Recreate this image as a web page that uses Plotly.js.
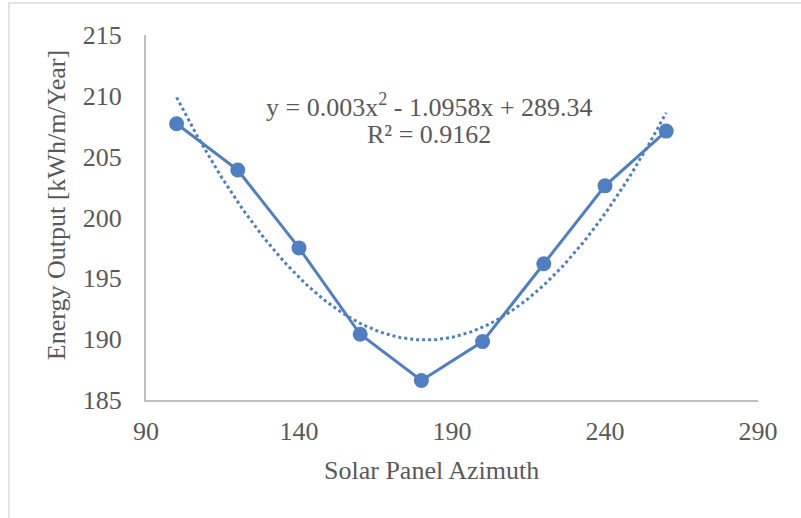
<!DOCTYPE html>
<html>
<head>
<meta charset="utf-8">
<script src="https://cdn.plot.ly/plotly-3.0.1.min.js"></script>
<style>
html,body{margin:0;padding:0;background:#fff;overflow:hidden;}
#frame{position:absolute;left:8px;top:2px;width:900px;height:700px;border:2px solid #e3e3e3;box-sizing:border-box;}
#chart{position:absolute;left:0;top:0;width:801px;height:518px;}
</style>
</head>
<body>
<div id="frame"></div>
<div id="chart"></div>
<script>
const azimuth = [100, 120, 140, 160, 180, 200, 220, 240, 260];
const energy = [207.7, 203.9, 197.5, 190.4, 186.6, 189.8, 196.2, 202.6, 207.1];
const xTickVals = [90, 140, 190, 240, 290];
const yTickVals = [185, 190, 195, 200, 205, 210, 215];
const xTitle = 'Solar Panel Azimuth';
const yTitle = 'Energy Output [kWh/m/Year]';
const equationText = 'y = 0.003x<sup>2</sup> - 1.0958x + 289.34';
const r2Text = 'R² = 0.9162';

// quadratic least-squares fit (trendline) computed from the data
function polyfit2(xs, ys) {
  let S = [0,0,0,0,0], T = [0,0,0];
  for (let i = 0; i < xs.length; i++) {
    let p = 1;
    for (let k = 0; k < 5; k++) { S[k] += p; if (k < 3) T[k] += p * ys[i]; p *= xs[i]; }
  }
  const A = [[S[0],S[1],S[2],T[0]],[S[1],S[2],S[3],T[1]],[S[2],S[3],S[4],T[2]]];
  for (let c = 0; c < 3; c++) {
    for (let r = c + 1; r < 3; r++) {
      const f = A[r][c] / A[c][c];
      for (let k = c; k < 4; k++) A[r][k] -= f * A[c][k];
    }
  }
  const sol = [0,0,0];
  for (let r = 2; r >= 0; r--) {
    let s = A[r][3];
    for (let k = r + 1; k < 3; k++) s -= A[r][k] * sol[k];
    sol[r] = s / A[r][r];
  }
  return sol; // c0, c1, c2
}
const coef = polyfit2(azimuth, energy);
const fitX = [], fitY = [];
const x0 = azimuth[0], x1 = azimuth[azimuth.length - 1];
for (let i = 0; i <= 160; i++) {
  const x = x0 + (x1 - x0) * i / 160;
  fitX.push(x);
  fitY.push(coef[0] + coef[1] * x + coef[2] * x * x);
}

const blue = '#4f7fc0';
const font = 'Liberation Serif, Times New Roman, serif';
const txt = '#595959';
const fs = 26;

const traces = [
  {x: fitX, y: fitY, type: 'scatter', mode: 'lines',
   line: {color: blue, width: 3, dash: 'dot'}, hoverinfo: 'skip'},
  {x: azimuth, y: energy, type: 'scatter', mode: 'lines+markers',
   line: {color: blue, width: 3}, marker: {color: blue, size: 15}}
];

const layout = {
  width: 801, height: 518,
  margin: {l: 146, r: 43, t: 35, b: 118},
  paper_bgcolor: 'rgba(0,0,0,0)',
  plot_bgcolor: 'rgba(0,0,0,0)',
  showlegend: false,
  font: {family: font, size: fs, color: txt},
  xaxis: {
    range: [90, 290], tickvals: xTickVals,
    showgrid: false, zeroline: false, showline: true,
    linecolor: '#bfbfbf', linewidth: 2, ticks: '',
    ticklabelstandoff: 7,
    tickfont: {family: font, size: fs, color: txt}
  },
  yaxis: {
    range: [185, 215], tickvals: yTickVals,
    showgrid: false, zeroline: false, showline: true,
    linecolor: '#bfbfbf', linewidth: 2, ticks: '',
    ticklabelstandoff: 17,
    tickfont: {family: font, size: fs, color: txt}
  },
  annotations: [
    {x: 182.8, y: 209.2, xref: 'x', yref: 'y', text: equationText,
     showarrow: false, font: {family: font, size: fs, color: txt}},
    {x: 182.5, y: 206.8, xref: 'x', yref: 'y', text: r2Text,
     showarrow: false, font: {family: font, size: fs, color: txt}},
    {x: 0.467, y: -0.192, xref: 'paper', yref: 'paper', text: xTitle,
     showarrow: false, xanchor: 'center', yanchor: 'middle',
     font: {family: font, size: fs, color: txt}},
    {x: -0.147, y: 0.534, xref: 'paper', yref: 'paper', text: yTitle,
     showarrow: false, textangle: -90, xanchor: 'center', yanchor: 'middle',
     font: {family: font, size: fs, color: txt}}
  ]
};

Plotly.newPlot('chart', traces, layout, {displayModeBar: false, staticPlot: true});
</script>
</body>
</html>
